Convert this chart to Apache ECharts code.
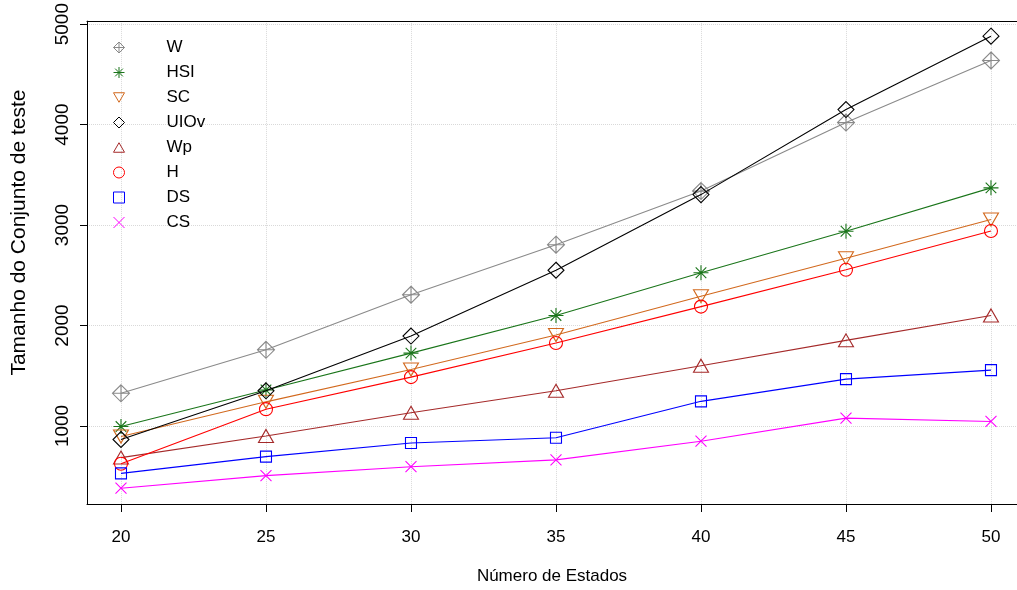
<!DOCTYPE html>
<html>
<head>
<meta charset="utf-8">
<script src="https://cdn.jsdelivr.net/npm/echarts@6/dist/echarts.min.js"></script>
<style>html,body{margin:0;padding:0;background:#fff;}#c{width:1017px;height:590px;}</style>
</head>
<body>
<div id="c"></div>
<script>
var states = [20, 25, 30, 35, 40, 45, 50];
var xTicks = [20, 25, 30, 35, 40, 45, 50];
var yTicks = [1000, 2000, 3000, 4000, 5000];
var seriesNames = ['W', 'HSI', 'SC', 'UIOv', 'Wp', 'H', 'DS', 'CS'];
var W    = [1325, 1758, 2306, 2804, 3338, 4020, 4638];
var HSI  = [994, 1358, 1725, 2100, 2525, 2938, 3370];
var SC   = [895, 1240, 1562, 1905, 2292, 2670, 3055];
var UIOv = [865, 1350, 1895, 2550, 3303, 4150, 4880];
var Wp   = [685, 900, 1131, 1350, 1600, 1852, 2100];
var H    = [623, 1167, 1486, 1825, 2188, 2555, 2940];
var DS   = [528, 695, 830, 882, 1245, 1466, 1556];
var CS   = [380, 505, 594, 662, 848, 1078, 1045];
var values = [W, HSI, SC, UIOv, Wp, H, DS, CS];

var colors = ['#8a8a8a', '#1a751a', '#d2691e', '#000000', '#a52a2a', '#ff0000', '#0000ff', '#ff00ff'];
var symbols = [
  'path://M0,-1L1,0L0,1L-1,0Z M0,-1L0,1 M-1,0L1,0',
  'path://M0,-1L0,1 M-1,0L1,0 M-0.707,-0.707L0.707,0.707 M-0.707,0.707L0.707,-0.707',
  'path://M0,0L2,0L1,1.732Z',
  'path://M0,-1L1,0L0,1L-1,0Z',
  'path://M1,0L2,1.732L0,1.732Z',
  'circle',
  'rect',
  'path://M-1,-1L1,1 M-1,1L1,-1'
];
var sizes = [[17, 17], [15, 15], [15, 13], [16, 16], [15, 13], [13, 13], [11, 11], [11, 11]];

var font = "'Liberation Sans', Arial, sans-serif";

var series = seriesNames.map(function (n, i) {
  return {
    name: n,
    type: 'line',
    data: states.map(function (s, j) { return [s, values[i][j]]; }),
    symbol: symbols[i],
    symbolSize: sizes[i],
    lineStyle: { color: colors[i], width: 1.1 },
    itemStyle: { color: 'rgba(0,0,0,0)', borderColor: colors[i], borderWidth: 1.1 },
    emphasis: { disabled: true },
    z: 2 + i
  };
});

var chart = echarts.init(document.getElementById('c'), null, { renderer: 'canvas' });
chart.setOption({
  animation: false,
  backgroundColor: '#ffffff',
  grid: {
    left: 87, top: 21, width: 930, height: 483,
    show: false,
    containLabel: false
  },
  legend: {
    orient: 'vertical',
    left: 108, top: 34,
    itemWidth: 11, itemHeight: 11,
    itemGap: 8,
    selectedMode: false,
    textStyle: { fontFamily: font, fontSize: 17, color: '#000', padding: [0, 0, 0, 37] },
    data: seriesNames.map(function (n, i) {
      return {
        name: n,
        icon: symbols[i],
        itemStyle: { color: 'rgba(0,0,0,0)', borderColor: colors[i], borderWidth: 1 }
      };
    })
  },
  xAxis: [{
    type: 'value',
    min: 18.828, max: 50.897,
    name: 'Número de Estados',
    nameLocation: 'middle',
    nameGap: 64,
    nameTextStyle: { fontFamily: font, fontSize: 17, color: '#000' },
    axisLine: { show: true, lineStyle: { color: '#000', width: 1 } },
    axisTick: { show: true, length: 8, customValues: xTicks, lineStyle: { color: '#000' } },
    axisLabel: { customValues: xTicks, margin: 25, fontFamily: font, fontSize: 17, color: '#000' },
    splitLine: { show: true, lineStyle: { color: '#d9d9d9', type: 'dotted', width: 1 } }
  }, {
    type: 'value',
    position: 'top',
    min: 18.828, max: 50.897,
    axisLine: { show: true, onZero: false, lineStyle: { color: '#000', width: 1 } },
    axisTick: { show: false },
    axisLabel: { show: false },
    splitLine: { show: false }
  }],
  yAxis: {
    type: 'value',
    min: 223, max: 5030,
    name: 'Tamanho do Conjunto de teste',
    nameLocation: 'middle',
    nameGap: 57,
    nameRotate: 90,
    nameTextStyle: { fontFamily: font, fontSize: 21, color: '#000', padding: [0, 0, 0, 60] },
    axisLine: { show: true, lineStyle: { color: '#000', width: 1 } },
    axisTick: { show: true, length: 7, customValues: yTicks, lineStyle: { color: '#000' } },
    axisLabel: {
      customValues: yTicks, rotate: 90, margin: 15,
      fontFamily: font, fontSize: 19, color: '#000',
      formatter: function (v) { return String(v); }
    },
    splitLine: { show: true, lineStyle: { color: '#d9d9d9', type: 'dotted', width: 1 } }
  },
  series: series
});
</script>
</body>
</html>
